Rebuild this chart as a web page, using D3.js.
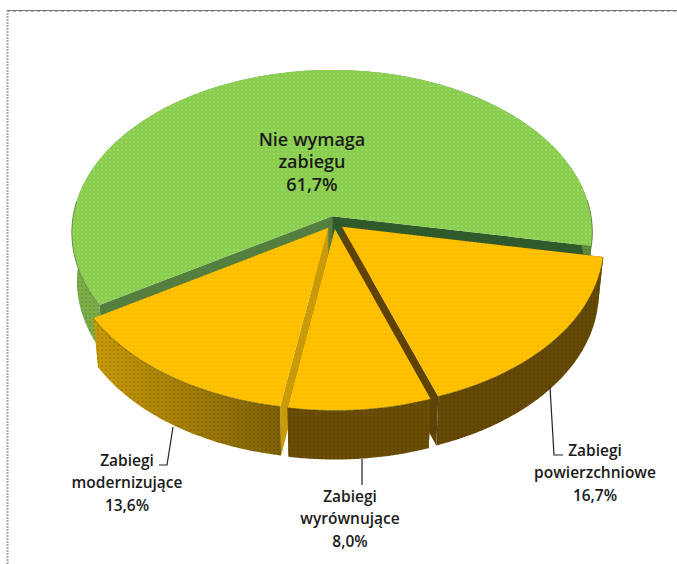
<!DOCTYPE html>
<html><head><meta charset="utf-8">
<script src="https://cdn.jsdelivr.net/npm/d3@7"></script>
<style>html,body{margin:0;padding:0;background:#fff}svg{display:block}</style>
</head><body><div id="c"></div>
<script>
const categories = ["Zabiegi powierzchniowe", "Zabiegi wyrównujące", "Zabiegi modernizujące", "Nie wymaga zabiegu"];
const values = [16.7, 8.0, 13.6, 61.7];
const topPatterns = ["yellowDots", "yellowDots", "yellowDots", "greenDots"];
const faceStartColors = ["#5F4306", "#5F4306", "#C99B08", "#557F3F"];
const faceEndColors = ["#5F4306", "#5F4306", "#C99B08", "#2F5A2C"];
const wallStart = ["#664903", "#6B4E04", "#C99A05", "#7DAF48"];
const wallEnd = ["#664903", "#6B4E04", "#7F6206", "#5E8C3A"];

const W = 677, H = 564;
const svg = d3.select("#c").append("svg").attr("width", W).attr("height", H)
  .style("font-family", "'Open Sans',sans-serif");

const sx = d3.scaleLinear().domain([-1, 1]).range([334 - 260, 334 + 260]);
const sy = d3.scaleLinear().domain([-1, 1]).range([222.5 + 162, 222.5 - 162]);
const persp = 0.1, explode = 0.04, depth = 49, shrink = 0.98;
const deg = Math.PI / 180;

const pie = d3.pie().value(d => d).sort(null).startAngle(100.5 * deg).endAngle(460.5 * deg);
const arcs = pie(values);

function project(X, Y) {
  const w = 1 + persp * Y;
  return [sx(X / w), sy(Y / w)];
}
function pt(a, r, mid) {
  return project(explode * Math.sin(mid) + r * Math.sin(a), explode * Math.cos(mid) + r * Math.cos(a));
}
function low(p, apexX) { return [apexX + (p[0] - apexX) * shrink, p[1] + depth]; }
const line = d3.line();

const defs = svg.append("defs");
function dots(id, base, dot) {
  const p = defs.append("pattern").attr("id", id).attr("patternUnits", "userSpaceOnUse")
    .attr("width", 4).attr("height", 4);
  p.append("rect").attr("width", 4).attr("height", 4).attr("fill", base);
  p.append("rect").attr("x", 1).attr("y", 1).attr("width", 2).attr("height", 2).attr("fill", dot);
}
dots("yellowDots", "#FFC300", "#FFB500");
dots("greenDots", "#8CCB52", "#8FDC55");
const shade = defs.append("pattern").attr("id", "shade").attr("patternUnits", "userSpaceOnUse")
  .attr("width", 4).attr("height", 4);
shade.append("rect").attr("x", 1).attr("y", 1).attr("width", 2).attr("height", 2).attr("fill", "#000").attr("fill-opacity", 0.12);

svg.append("path").attr("d", `M7.5 ${H}V10.5`).attr("fill", "none")
  .attr("stroke", "#a8a8a8").attr("stroke-width", 2).attr("stroke-dasharray", "2 1");
svg.append("path").attr("d", `M7 10.5H${W}`).attr("fill", "none").attr("stroke", "#777");
svg.append("path").attr("d", `M7 11.5H${W}`).attr("fill", "none").attr("stroke", "#b5b5b5").attr("stroke-dasharray", "3 3");

// painter's order: back slice first, the front slice last
const order = [3, 0, 2, 1];
order.forEach(i => {
  const s = arcs[i], mid = (s.startAngle + s.endAngle) / 2;
  const g = svg.append("g").attr("class", "slice");
  const apex = pt(0, 0, mid);
  const angles = d3.range(s.startAngle, s.endAngle, 0.5 * deg).concat([s.endAngle]);
  const rim = angles.map(a => pt(a, 1, mid));
  const first = rim[0], last = rim[rim.length - 1];

  [[first, faceStartColors[i]], [last, faceEndColors[i]]].forEach(([t, col]) => {
    g.append("path").attr("d", line([apex, t, low(t, apex[0]), low(apex, apex[0])]) + "Z")
      .attr("fill", col);
  });

  const gid = "wall" + i;
  const grad = defs.append("linearGradient").attr("id", gid).attr("gradientUnits", "userSpaceOnUse")
    .attr("x1", d3.min(rim, p => p[0])).attr("x2", d3.max(rim, p => p[0])).attr("y1", 0).attr("y2", 0);
  grad.append("stop").attr("offset", 0).attr("stop-color", wallStart[i]);
  grad.append("stop").attr("offset", 1).attr("stop-color", wallEnd[i]);
  const lows = rim.map(p => low(p, apex[0]));
  const wallPath = line(rim.concat(lows.slice().reverse())) + "Z";
  g.append("path").attr("d", wallPath).attr("fill", `url(#${gid})`);
  g.append("path").attr("d", wallPath).attr("fill", "url(#shade)");

  g.append("path").attr("d", line([apex].concat(rim)) + "Z").attr("fill", `url(#${topPatterns[i]})`);
  // dark seam only where the rim sits on a visible wall
  const seam = d3.line().defined((p, k) => Math.cos(angles[k]) < 0.1);
  g.append("path").attr("d", seam(rim)).attr("fill", "none").attr("stroke", "#3b3a10")
    .attr("stroke-opacity", 0.6).attr("stroke-width", 0.8);
});

const leaders = [
  [[550, 387], [554, 455], [563, 455]],
  [[362, 459], [362, 485]],
  [[173, 427], [167, 465], [159, 465]]
];
leaders.forEach(l => svg.append("path").attr("d", line(l)).attr("fill", "none").attr("stroke", "#222").attr("stroke-width", 1.2));

const fmt = v => v.toFixed(1).replace(".", ",") + "%";
const labelPos = [[595, 456], [350, 502], [127, 466], [312, 146]];
const labelSize = [15.5, 15.5, 15.5, 18];
categories.forEach((c, i) => {
  const parts = c.split(" ");
  const lines = i === 3 ? ["Nie wymaga", "zabiegu", fmt(values[i])] : [parts[0], parts[1], fmt(values[i])];
  const t = svg.append("text").attr("text-anchor", "middle").attr("font-size", labelSize[i])
    .attr("font-weight", 600).attr("fill", "#1a1a1a");
  lines.forEach((ln, k) => t.append("tspan").attr("x", labelPos[i][0]).attr("y", labelPos[i][1] + k * 22.3).text(ln));
});
</script></body></html>
